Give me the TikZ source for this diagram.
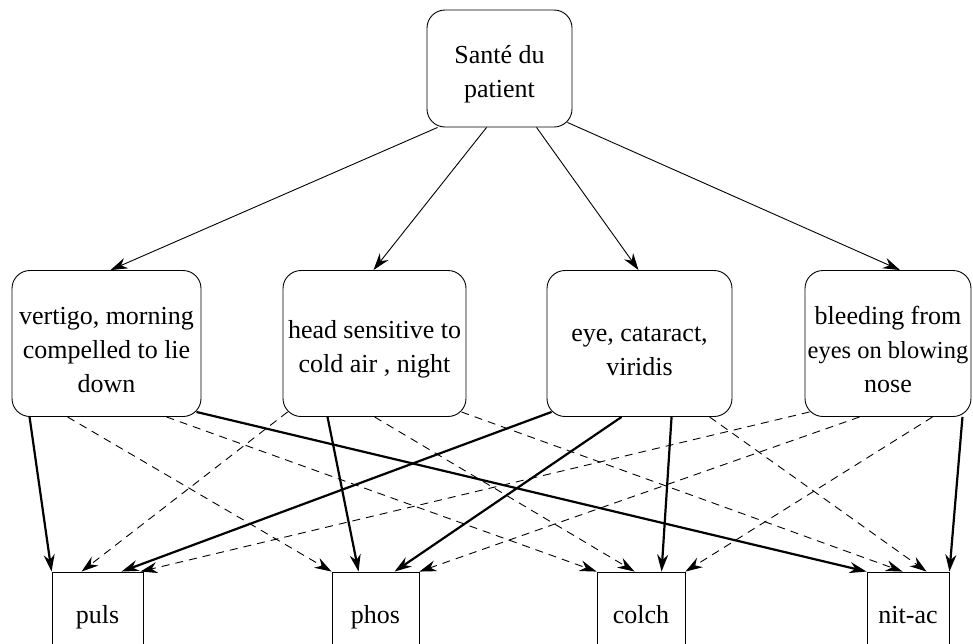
\documentclass[tikz,border=0pt]{standalone}
\usepackage{fontspec}
\setmainfont{Liberation Serif}
\usetikzlibrary{arrows.meta}
\tikzset{
	symptom/.style={draw, line width=0.9pt, rounded corners=18pt, minimum height=146pt, align=flush center, inner xsep=5pt, font=\fontsize{26}{34}\selectfont, execute at begin node={\rule{0pt}{30pt}}},
	remedy/.style={draw, line width=0.9pt, minimum height=82pt, text height=27pt, text depth=6pt, font=\fontsize{26}{34}\selectfont},
	link/.style={-{Stealth[length=17pt,width=11pt]}, line width=0.9pt},
	strong/.style={link, line width=2.2pt},
	weak/.style={link, dash pattern=on 8pt off 6pt},
}

\begin{document}
\begin{tikzpicture}[x=1pt,y=-1pt]
	\clip (0,0) rectangle (973,643);
	\node[symptom, text width=135pt, minimum height=117pt] (top) at (499.5,68.5) {Santé du\\patient};
	\node[symptom, text width=179pt] (vertigo) at (106.5,343.5) {vertigo, morning\\compelled to lie\\down};
	\node[symptom, text width=173pt] (head) at (374.5,343.5) {head sensitive to\\cold air , night};
	\node[symptom, text width=175pt] (eye) at (639.5,343.5) {eye, cataract,\\viridis};
	\node[symptom, text width=164pt, inner xsep=1pt] (bleeding) at (888,343.5) {bleeding from\\{\fontsize{24.5}{34}\selectfont\mbox{eyes on blowing}}\\nose};
	\node[remedy, minimum width=91pt] (puls) at (97.5,613) {puls};
	\node[remedy, minimum width=87pt] (phos) at (375.5,613) {phos};
	\node[remedy, minimum width=88pt] (colch) at (641,613) {colch};
	\node[remedy, minimum width=82pt] (nitac) at (908,613) {nit-ac};
	% od vrha
	\draw[link] ([xshift=11pt]top.south west) -- ([xshift=4pt]vertigo.north);
	\draw[link] ([xshift=60pt]top.south west) -- ([xshift=-1pt]head.north);
	\draw[link] ([xshift=110pt]top.south west) -- ([xshift=-1pt]eye.north);
	\draw[link] ([xshift=-5pt,yshift=5pt]top.south east) -- ([xshift=12pt]bleeding.north);
	% vertigo
	\draw[strong] ([xshift=18pt]vertigo.south west) -- (puls.north west);
	\draw[weak] ([xshift=56pt]vertigo.south west) -- (phos.north west);
	\draw[weak] ([xshift=155pt]vertigo.south west) -- (colch.north west);
	\draw[strong] ([xshift=-5pt,yshift=5pt]vertigo.south east) -- (nitac.north west);
	% head
	\draw[weak] ([xshift=5pt,yshift=5pt]head.south west) -- ([xshift=30pt]puls.north west);
	\draw[strong] ([xshift=45pt]head.south west) -- ([xshift=27pt]phos.north west);
	\draw[weak] ([xshift=92pt]head.south west) -- ([xshift=38pt]colch.north west);
	\draw[weak] ([xshift=-5pt,yshift=5pt]head.south east) -- ([xshift=36pt]nitac.north west);
	% eye
	\draw[strong] ([xshift=5pt,yshift=5pt]eye.south west) -- ([xshift=70pt]puls.north west);
	\draw[strong] ([xshift=75pt]eye.south west) -- ([xshift=63pt]phos.north west);
	\draw[strong] ([xshift=125pt]eye.south west) -- ([xshift=65pt]colch.north west);
	\draw[weak] ([xshift=163pt]eye.south west) -- ([xshift=60pt]nitac.north west);
	% bleeding
	\draw[weak] ([xshift=5pt,yshift=5pt]bleeding.south west) -- ([xshift=-3pt]puls.north east);
	\draw[weak] ([xshift=55pt]bleeding.south west) -- (phos.north east);
	\draw[weak] ([xshift=128pt]bleeding.south west) -- (colch.north east);
	\draw[strong] ([xshift=-9pt]bleeding.south east) -- (nitac.north east);
\end{tikzpicture}
\end{document}
